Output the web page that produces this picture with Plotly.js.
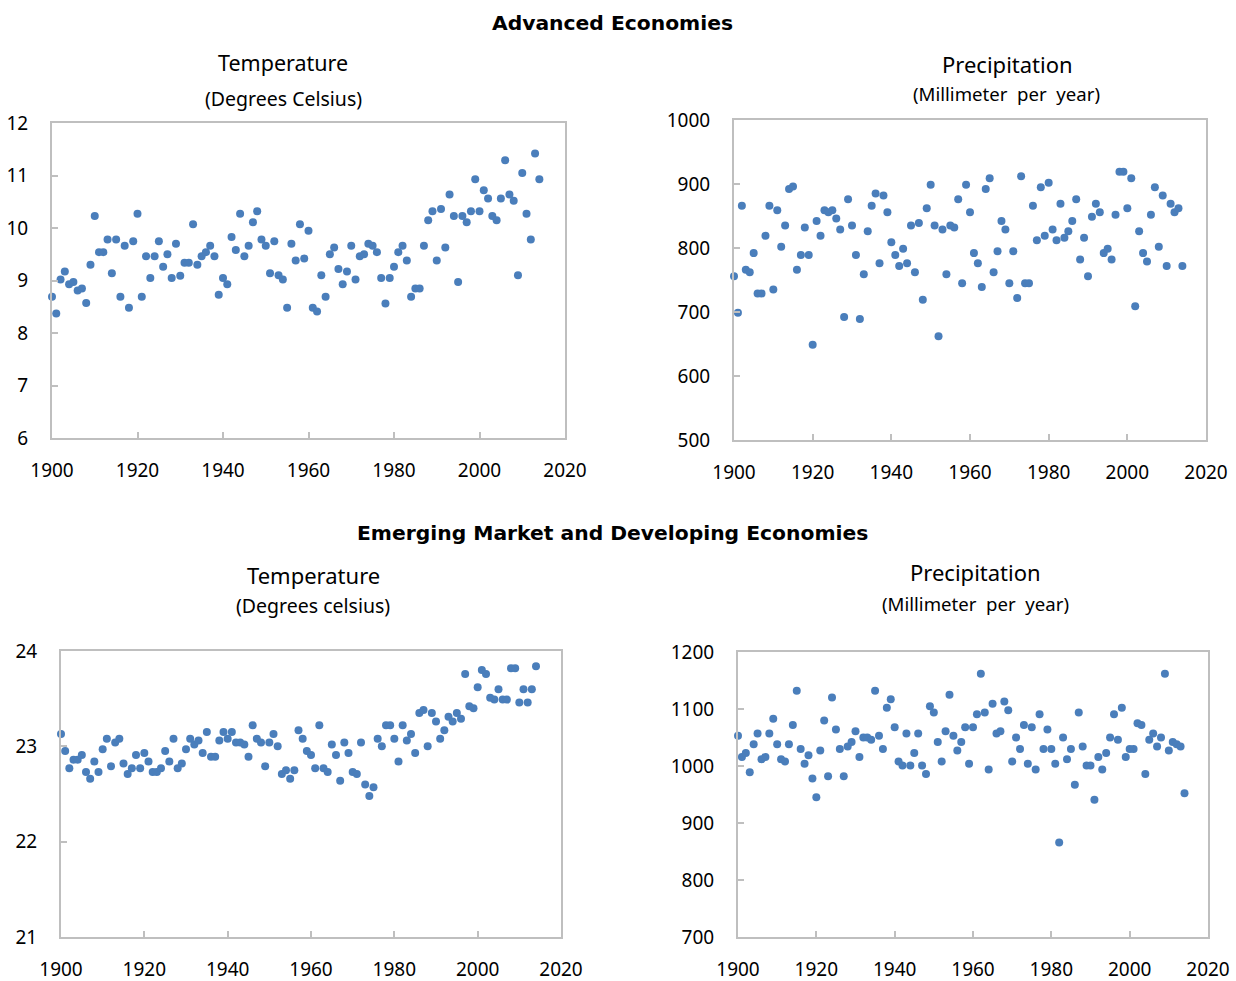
<!DOCTYPE html>
<html>
<head>
<meta charset="utf-8">
<script src="https://cdn.plot.ly/plotly-3.0.1.min.js"></script>
<style>html,body{margin:0;padding:0;background:#fff;}#chart{width:1236px;height:981px;}</style>
</head>
<body>
<div id="chart"></div>
<script>
const years = [1900,1901,1902,1903,1904,1905,1906,1907,1908,1909,
1910,1911,1912,1913,1914,1915,1916,1917,1918,1919,
1920,1921,1922,1923,1924,1925,1926,1927,1928,1929,
1930,1931,1932,1933,1934,1935,1936,1937,1938,1939,
1940,1941,1942,1943,1944,1945,1946,1947,1948,1949,
1950,1951,1952,1953,1954,1955,1956,1957,1958,1959,
1960,1961,1962,1963,1964,1965,1966,1967,1968,1969,
1970,1971,1972,1973,1974,1975,1976,1977,1978,1979,
1980,1981,1982,1983,1984,1985,1986,1987,1988,1989,
1990,1991,1992,1993,1994,1995,1996,1997,1998,1999,
2000,2001,2002,2003,2004,2005,2006,2007,2008,2009,
2010,2011,2012,2013,2014];

const advTemp = [8.69,8.37,9.02,9.17,8.93,8.97,8.81,8.85,8.57,9.30,
10.23,9.54,9.54,9.78,9.14,9.78,8.69,9.66,8.48,9.75,
10.27,8.69,9.46,9.05,9.46,9.75,9.26,9.50,9.05,9.70,
9.09,9.34,9.34,10.07,9.30,9.46,9.54,9.66,9.46,8.73,
9.05,8.93,9.83,9.58,10.27,9.46,9.66,10.11,10.32,9.78,
9.66,9.14,9.75,9.10,9.02,8.48,9.70,9.38,10.07,9.42,
9.95,8.48,8.41,9.10,8.69,9.50,9.63,9.22,8.93,9.17,
9.66,9.02,9.46,9.50,9.70,9.66,9.54,9.05,8.56,9.05,
9.26,9.54,9.66,9.38,8.69,8.85,8.85,9.66,10.15,10.32,
9.38,10.36,9.63,10.64,10.23,8.97,10.23,10.11,10.32,10.93,
10.32,10.72,10.56,10.23,10.15,10.56,11.29,10.64,10.52,9.10,
11.05,10.27,9.78,11.42,10.93];

const advPrecip = [756,699,866,766,762,792,729,729,819,866,
735,859,802,835,892,896,766,789,832,789,
649,842,819,859,856,859,846,829,692,876,
835,789,689,759,826,866,885,776,882,856,
809,789,772,799,776,835,762,839,719,862,
899,835,662,829,759,835,832,876,745,899,
856,792,776,739,892,909,762,795,842,829,
745,795,722,912,745,745,866,812,895,819,
902,829,812,869,816,826,842,876,782,816,
756,849,869,856,792,799,782,852,919,919,
862,909,709,826,792,779,852,895,802,882,
772,869,856,862,772];

const emTemp = [23.13,22.95,22.77,22.86,22.86,22.91,22.73,22.66,22.84,22.73,
22.97,23.08,22.79,23.04,23.08,22.82,22.71,22.77,22.91,22.77,
22.93,22.84,22.73,22.73,22.77,22.95,22.84,23.08,22.77,22.82,
22.97,23.08,23.02,23.06,22.93,23.15,22.89,22.89,23.06,23.15,
23.08,23.15,23.04,23.04,23.02,22.89,23.22,23.08,23.04,22.79,
23.04,23.13,23.00,22.71,22.75,22.66,22.75,23.17,23.08,22.95,
22.91,22.77,23.22,22.77,22.73,23.02,22.91,22.64,23.04,22.93,
22.73,22.71,23.04,22.60,22.48,22.57,23.08,23.00,23.22,23.22,
23.08,22.84,23.22,23.06,23.13,22.93,23.35,23.38,23.00,23.35,
23.26,23.08,23.17,23.31,23.26,23.35,23.29,23.76,23.42,23.40,
23.62,23.80,23.76,23.51,23.49,23.60,23.49,23.49,23.82,23.82,
23.46,23.60,23.46,23.60,23.84];

const emPrecip = [1053,1016,1023,989,1038,1057,1012,1016,1057,1083,
1038,1012,1008,1038,1072,1132,1030,1004,1019,978,
945,1027,1080,982,1120,1064,1030,982,1034,1042,
1061,1016,1050,1050,1046,1132,1053,1030,1102,1117,
1068,1008,1001,1057,1001,1023,1057,1001,986,1105,
1094,1042,1008,1061,1125,1053,1027,1042,1068,1004,
1068,1091,1162,1094,994,1109,1057,1061,1113,1098,
1008,1050,1030,1072,1004,1068,994,1091,1030,1064,
1030,1004,866,1050,1012,1030,967,1094,1034,1001,
1001,941,1016,994,1023,1050,1091,1046,1102,1016,
1030,1030,1075,1072,986,1046,1057,1034,1050,1162,
1027,1042,1038,1034,952];

const xTicks = [1900,1920,1940,1960,1980,2000,2020];
const advTempTicks = [6,7,8,9,10,11,12];
const advPrecipTicks = [500,600,700,800,900,1000];
const emTempTicks = [21,22,23,24];
const emPrecipTicks = [700,800,900,1000,1100,1200];

const W = 1236, H = 981;
const dot = {color:'#4a7ebb', size:8, line:{width:0}};
const FONT = 'Noto Sans, Open Sans, sans-serif';
const BOLDFONT = 'DejaVu Sans, Noto Sans, sans-serif';

function tr(x, y, ax){
  return {x:x, y:y, type:'scatter', mode:'markers', marker:dot, cliponaxis:false,
    xaxis:'x'+ax, yaxis:'y'+ax, hoverinfo:'x+y', showlegend:false};
}
const data = [tr(years, advTemp, ''), tr(years, advPrecip, '2'), tr(years, emTemp, '3'), tr(years, emPrecip, '4')];

function px2dx(a, b){ return [a/W, b/W]; }
function py2dy(top, bottom){ return [1 - bottom/H, 1 - top/H]; }

const axBase = {showline:true, mirror:true, linecolor:'#bfbfbf', linewidth:2,
  ticks:'inside', ticklen:6, tickwidth:2, tickcolor:'#bfbfbf',
  showgrid:false, zeroline:false, tickfont:{family:FONT, size:19, color:'#000'}, fixedrange:true};

function xax(domain, anchor){
  return Object.assign({}, axBase, {domain:domain, anchor:anchor, range:[1900,2020],
    tickmode:'array', tickvals:xTicks, ticktext:xTicks.map(String), ticklabelstandoff:14});
}
function yax(domain, anchor, range, ticks){
  return Object.assign({}, axBase, {domain:domain, anchor:anchor, range:range,
    tickmode:'array', tickvals:ticks, ticktext:ticks.map(String), ticklabelstandoff:18});
}

const layout = {
  width:W, height:H, margin:{l:0, r:0, t:0, b:0}, paper_bgcolor:'#fff', plot_bgcolor:'#fff',
  showlegend:false,
  xaxis: xax(px2dx(52,565), 'y'),
  yaxis: yax(py2dy(123,438), 'x', [6,12], advTempTicks),
  xaxis2: xax(px2dx(734,1206), 'y2'),
  yaxis2: yax(py2dy(120,440), 'x2', [500,1000], advPrecipTicks),
  xaxis3: xax(px2dx(61,561), 'y3'),
  yaxis3: yax(py2dy(651,937), 'x3', [21,24], emTempTicks),
  xaxis4: xax(px2dx(738,1208), 'y4'),
  yaxis4: yax(py2dy(652,937), 'x4', [700,1200], emPrecipTicks),
  annotations: []
};

function ann(text, x, y, size, bold){
  layout.annotations.push({text:text, xref:'paper', yref:'paper', x:x/W, y:1-y/H,
    xanchor:'center', yanchor:'middle', showarrow:false,
    font:{family: bold ? BOLDFONT : FONT, size:size, color:'#000', weight: bold ? 'bold' : 'normal'}});
}
ann('Advanced Economies', 612, 23, 20.3, true);
ann('Temperature', 283, 62, 21.5, false);
ann('(Degrees Celsius)', 283, 98, 19.5, false);
ann('Precipitation', 1007, 64, 22, false);
ann('(Millimeter  per  year)', 1006, 94, 18.6, false);
ann('Emerging Market and Developing Economies', 612, 533, 20.3, true);
ann('Temperature', 313, 575, 22, false);
ann('(Degrees celsius)', 313, 605, 19.5, false);
ann('Precipitation', 975, 572, 22, false);
ann('(Millimeter  per  year)', 975, 603, 18.6, false);

Plotly.newPlot('chart', data, layout, {displayModeBar:false, staticPlot:true});
</script>
</body>
</html>
